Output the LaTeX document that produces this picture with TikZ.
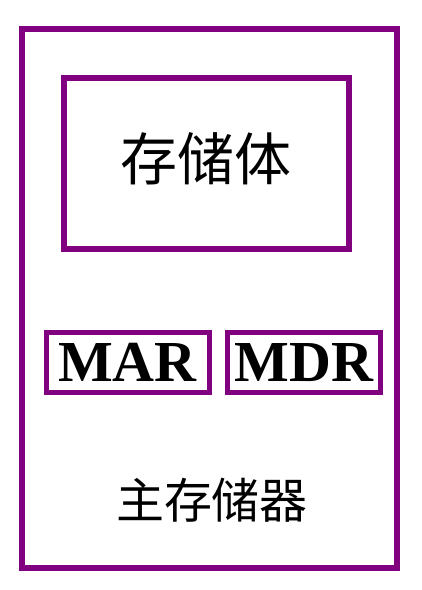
\documentclass[tikz,border=0pt]{standalone}
\usepackage{fontspec}
\setmainfont{Liberation Serif}
\newfontfamily\cjk{Noto Sans CJK SC}
\usetikzlibrary{positioning}
\definecolor{memPurple}{RGB}{128,0,128}

\begin{document}
\begin{tikzpicture}[
  x=1pt, y=-1pt,
  frame/.style={rectangle, draw=memPurple, line width=#1,
                inner sep=0pt},
  frame/.default=6pt,
  reg/.style={frame=5pt, minimum height=60pt,
              font=\fontsize{58}{60}\selectfont\bfseries},
  cjktext/.style={font=\cjk\fontsize{#1}{#1}\selectfont}
]
  \useasboundingbox (0,0) rectangle (422,590);
  % outer box: main memory
  \node[frame, minimum width=374.5pt, minimum height=538.5pt]
    (mem) at (209.25,298.25) {};
  \node[cjktext=48] (memlabel) at (212,500) {主存储器};
  % storage array
  \node[frame, minimum width=285pt, minimum height=171pt]
    (store) at (206.5,163.5) {};
  \node[cjktext=57] (storelabel) at (206,159) {存储体};
  % registers
  \node[reg, minimum width=163pt] (mar) at (127.5,362.5) {MAR};
  \node[reg, minimum width=153pt] (mdr) at (304,362.5) {MDR};
\end{tikzpicture}
\end{document}
